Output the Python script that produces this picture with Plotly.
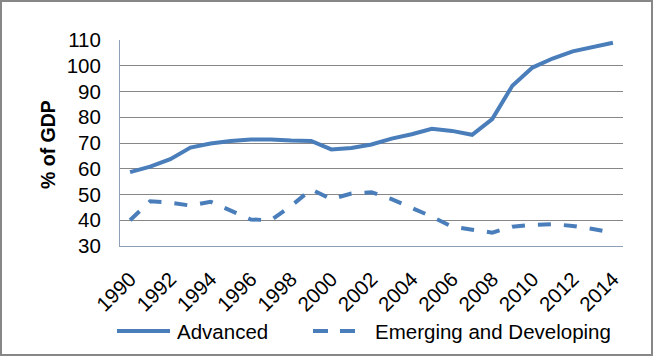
import plotly.graph_objects as go

years = list(range(1990, 2015))
advanced = [58.7, 60.8, 63.7, 68.2, 69.8, 70.8, 71.4, 71.4, 71.0, 70.8,
            67.5, 68.1, 69.4, 71.7, 73.4, 75.5, 74.7, 73.2, 79.3, 92.2,
            99.3, 102.8, 105.6, 107.4, 108.9]
emerging = [40.0, 47.4, 46.8, 45.7, 47.2, 43.9, 40.3, 40.0, 45.5, 52.0,
            48.2, 50.4, 50.9, 48.2, 45.0, 41.4, 37.5, 36.4, 35.2, 37.5,
            38.2, 38.5, 37.8, 36.6, 35.2]
tick_years = list(range(1990, 2015, 2))
series_names = ["Advanced", "Emerging and Developing"]

W, H = 653, 356
L, R, T, B = 120, 30, 40, 110
PW, PH = W - L - R, H - T - B

def px(x):
    return (x - L) / PW

def py(y):
    return (H - B - y) / PH

BLUE = "#4A7EBB"
FONT = "Liberation Sans, Arial, sans-serif"
FS = 20.5

fig = go.Figure()
fig.add_trace(go.Scatter(x=years, y=advanced, mode="lines", name=series_names[0],
                         line=dict(color=BLUE, width=4), showlegend=False))
fig.add_trace(go.Scatter(x=years, y=emerging, mode="lines", name=series_names[1],
                         line=dict(color=BLUE, width=4, dash="13px,13px"), showlegend=False))

fig.update_layout(
    width=W, height=H,
    margin=dict(l=L, r=R, t=T, b=B),
    paper_bgcolor="white", plot_bgcolor="white",
    font=dict(family=FONT, size=FS, color="black"),
    xaxis=dict(range=[1989.5, 2014.5], tickvals=tick_years,
               ticktext=[str(y) for y in tick_years], tickangle=-45,
               showgrid=False, showline=True, linecolor="#8EA0B5", linewidth=1,
               ticks="", ticklabelstandoff=12, zeroline=False),
    yaxis=dict(range=[30, 110], dtick=10, showgrid=True, gridcolor="#878787",
               gridwidth=1, showline=True, linecolor="#8EA0B5", linewidth=1,
               ticks="", ticklabelstandoff=14, zeroline=False),
    annotations=[
        dict(text="<b>% of GDP</b>", x=px(48), y=py(145), xref="paper", yref="paper",
             textangle=-90, showarrow=False, font=dict(size=19.5), xanchor="center", yanchor="middle"),
        dict(text=series_names[0], x=px(175), y=py(331), xref="paper", yref="paper",
             showarrow=False, xanchor="left", yanchor="middle", font=dict(size=FS)),
        dict(text=series_names[1], x=px(373), y=py(331), xref="paper", yref="paper",
             showarrow=False, xanchor="left", yanchor="middle", font=dict(size=FS)),
    ],
    shapes=[
        dict(type="rect", xref="paper", yref="paper", x0=px(1), x1=px(652), y0=py(355), y1=py(1),
             line=dict(color="#878787", width=2), fillcolor="rgba(0,0,0,0)", layer="below"),
        dict(type="line", xref="paper", yref="paper", x0=px(117), x1=px(170), y0=py(331), y1=py(331),
             line=dict(color=BLUE, width=4)),
        dict(type="line", xref="paper", yref="paper", x0=px(313), x1=px(357), y0=py(331), y1=py(331),
             line=dict(color=BLUE, width=4, dash="15px,12px")),
    ],
)

fig.write_html("out.html", config={"displayModeBar": False},
               post_script="document.body.style.margin='0';document.body.style.overflow='hidden';")
